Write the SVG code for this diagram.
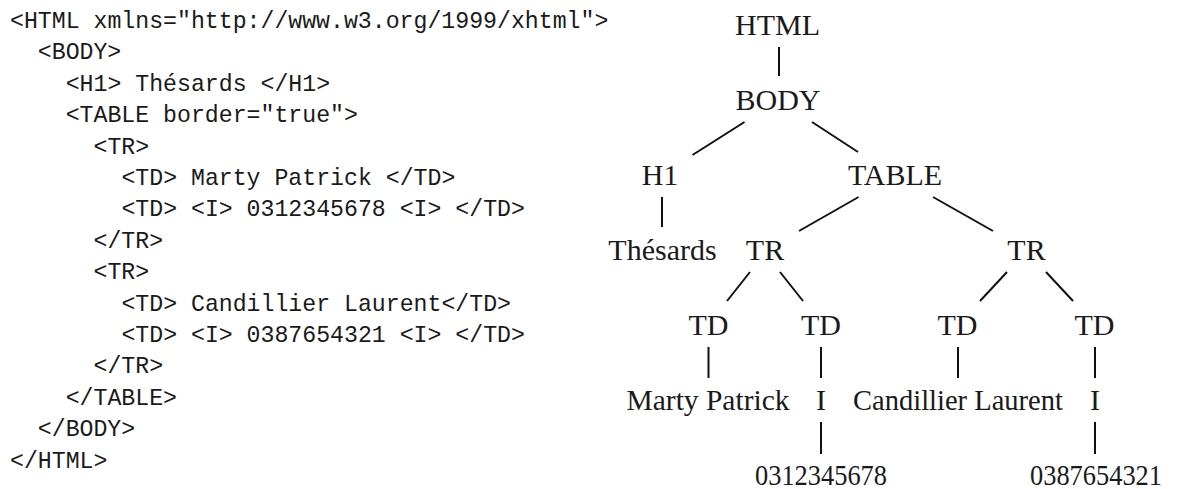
<svg xmlns="http://www.w3.org/2000/svg" width="1180" height="489" viewBox="0 0 1180 489">
  <style>
    .code { font-family: "Liberation Mono", "DejaVu Sans Mono", monospace; font-size: 23.2px; fill: #1a1a1a; }
    .node { font-family: "Liberation Serif", "DejaVu Serif", serif; font-size: 30px; fill: #1a1a1a; text-anchor: middle; }
    .edge { stroke: #111; stroke-width: 2; fill: none; stroke-linecap: butt; }
  </style>
  <rect width="1180" height="489" fill="#ffffff"/>

  <!-- HTML source listing -->
  <g id="source">
    <text class="code" x="10" y="28">&lt;HTML xmlns="http://www.w3.org/1999/xhtml"&gt;</text>
    <text class="code" x="37.8" y="59.4">&lt;BODY&gt;</text>
    <text class="code" x="65.7" y="90.8">&lt;H1&gt; Thésards &lt;/H1&gt;</text>
    <text class="code" x="65.7" y="122.2">&lt;TABLE border="true"&gt;</text>
    <text class="code" x="93.5" y="153.6">&lt;TR&gt;</text>
    <text class="code" x="121.4" y="185">&lt;TD&gt; Marty Patrick &lt;/TD&gt;</text>
    <text class="code" x="121.4" y="216.4">&lt;TD&gt; &lt;I&gt; 0312345678 &lt;I&gt; &lt;/TD&gt;</text>
    <text class="code" x="93.5" y="247.8">&lt;/TR&gt;</text>
    <text class="code" x="93.5" y="279.2">&lt;TR&gt;</text>
    <text class="code" x="121.4" y="310.6">&lt;TD&gt; Candillier Laurent&lt;/TD&gt;</text>
    <text class="code" x="121.4" y="342">&lt;TD&gt; &lt;I&gt; 0387654321 &lt;I&gt; &lt;/TD&gt;</text>
    <text class="code" x="93.5" y="373.4">&lt;/TR&gt;</text>
    <text class="code" x="65.7" y="404.8">&lt;/TABLE&gt;</text>
    <text class="code" x="37.8" y="436.2">&lt;/BODY&gt;</text>
    <text class="code" x="10" y="467.6">&lt;/HTML&gt;</text>
  </g>

  <!-- tree edges -->
  <g id="connectors">
    <line class="edge" x1="779" y1="47" x2="779" y2="76"/>
    <line class="edge" x1="744.5" y1="122" x2="692.5" y2="155"/>
    <line class="edge" x1="812" y1="122" x2="858" y2="152"/>
    <line class="edge" x1="662" y1="197" x2="662" y2="227"/>
    <line class="edge" x1="858.6" y1="197" x2="799" y2="231"/>
    <line class="edge" x1="933" y1="197" x2="993" y2="231"/>
    <line class="edge" x1="750" y1="272" x2="727" y2="301"/>
    <line class="edge" x1="780" y1="272" x2="803" y2="301"/>
    <line class="edge" x1="1007" y1="272" x2="980" y2="301"/>
    <line class="edge" x1="1046" y1="272" x2="1073" y2="301"/>
    <line class="edge" x1="708.5" y1="347" x2="708.5" y2="378"/>
    <line class="edge" x1="821" y1="347" x2="821" y2="378"/>
    <line class="edge" x1="958" y1="347" x2="958" y2="378"/>
    <line class="edge" x1="1095" y1="347" x2="1095" y2="378"/>
    <line class="edge" x1="821" y1="422" x2="821" y2="454"/>
    <line class="edge" x1="1095" y1="422" x2="1095" y2="454"/>
  </g>

  <!-- tree nodes -->
  <g id="n-html"><text class="node" x="777.5" y="35">HTML</text></g>
  <g id="n-body"><text class="node" x="778" y="110">BODY</text></g>
  <g id="n-h1"><text class="node" x="660" y="185">H1</text></g>
  <g id="n-table"><text class="node" x="895" y="185">TABLE</text></g>
  <g id="n-thesards"><text class="node" x="662.5" y="260">Thésards</text></g>
  <g id="n-tr1"><text class="node" x="765" y="260">TR</text></g>
  <g id="n-tr2"><text class="node" x="1026.5" y="260">TR</text></g>
  <g id="n-td1"><text class="node" x="708.5" y="335">TD</text></g>
  <g id="n-td2"><text class="node" x="821" y="335">TD</text></g>
  <g id="n-td3"><text class="node" x="957.5" y="335">TD</text></g>
  <g id="n-td4"><text class="node" x="1094.5" y="335">TD</text></g>
  <g id="n-marty"><text class="node" x="708" y="410" textLength="163" lengthAdjust="spacingAndGlyphs">Marty Patrick</text></g>
  <g id="n-i1"><text class="node" x="821" y="410">I</text></g>
  <g id="n-candillier"><text class="node" x="958" y="410" textLength="210" lengthAdjust="spacingAndGlyphs">Candillier Laurent</text></g>
  <g id="n-i2"><text class="node" x="1095" y="410">I</text></g>
  <g id="n-num1"><text class="node" x="821" y="485" textLength="132" lengthAdjust="spacingAndGlyphs">0312345678</text></g>
  <g id="n-num2"><text class="node" x="1096" y="485" textLength="132" lengthAdjust="spacingAndGlyphs">0387654321</text></g>
</svg>
